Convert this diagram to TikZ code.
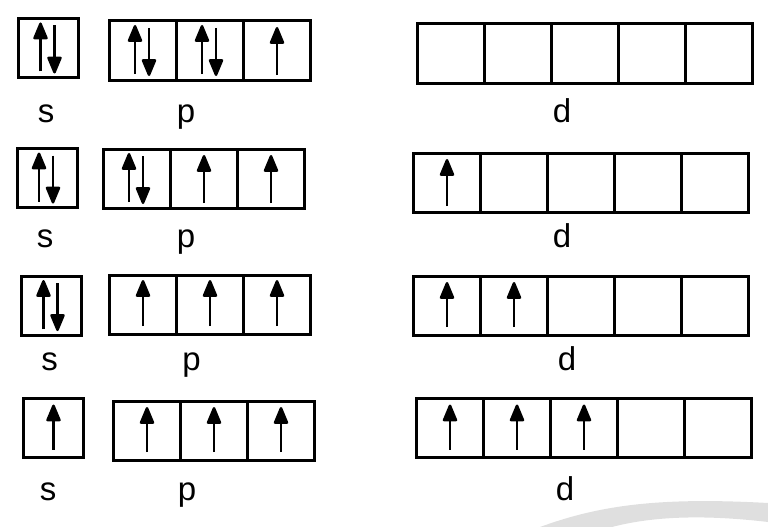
\documentclass[tikz,border=0pt]{standalone}
\usepackage{fontspec}
\setmainfont{Liberation Sans}
\usetikzlibrary{positioning,arrows.meta}

\begin{document}
\begin{tikzpicture}[x=1pt, y=-1pt, node distance=0pt,
	cell/.style={draw, line width=3pt, minimum width=67pt, minimum height=59pt, inner sep=0pt, outer sep=0pt},
	scell/.style={cell, minimum width=60pt},
	spin/.style={line width=2.5pt, -{Triangle[length=19pt,width=15pt,round]}},
	lbl/.style={anchor=base, inner sep=0pt, font=\fontsize{33}{38}\selectfont}]
	\useasboundingbox (0,0) rectangle (768,527);

	% watermark swoosh
	\fill[gray!25] (540,527) .. controls (600,505) and (660,497) .. (768,503)
		-- (768,522) .. controls (700,514) and (650,517) .. (612,527) -- cycle;

	% Define nodes
	\node (s1) [scell] at (48.5,48) {};
	\node (p11) [cell] at (143,50.5) {};
	\node (p12) [cell, right=of p11] {};
	\node (p13) [cell, right=of p12] {};
	\node (d11) [cell] at (450.5,53.5) {};
	\node (d12) [cell, right=of d11] {};
	\node (d13) [cell, right=of d12] {};
	\node (d14) [cell, right=of d13] {};
	\node (d15) [cell, right=of d14] {};

	\node (s2) [scell] at (47,178) {};
	\node (p21) [cell] at (137,178.5) {};
	\node (p22) [cell, right=of p21] {};
	\node (p23) [cell, right=of p22] {};
	\node (d21) [cell] at (447,182.5) {};
	\node (d22) [cell, right=of d21] {};
	\node (d23) [cell, right=of d22] {};
	\node (d24) [cell, right=of d23] {};
	\node (d25) [cell, right=of d24] {};

	\node (s3) [scell] at (51.5,305.5) {};
	\node (p31) [cell] at (143,304.5) {};
	\node (p32) [cell, right=of p31] {};
	\node (p33) [cell, right=of p32] {};
	\node (d31) [cell] at (447,305.5) {};
	\node (d32) [cell, right=of d31] {};
	\node (d33) [cell, right=of d32] {};
	\node (d34) [cell, right=of d33] {};
	\node (d35) [cell, right=of d34] {};

	\node (s4) [scell] at (53.5,428) {};
	\node (p41) [cell] at (147,430.5) {};
	\node (p42) [cell, right=of p41] {};
	\node (p43) [cell, right=of p42] {};
	\node (d41) [cell] at (450,428) {};
	\node (d42) [cell, right=of d41] {};
	\node (d43) [cell, right=of d42] {};
	\node (d44) [cell, right=of d43] {};
	\node (d45) [cell, right=of d44] {};

	% Labels
	\node (ls1) [lbl] at (46,122) {s};
	\node (lp1) [lbl] at (186,122) {p};
	\node (ld1) [lbl] at (562,122) {d};
	\node (ls2) [lbl] at (45,247) {s};
	\node (lp2) [lbl] at (186,247) {p};
	\node (ld2) [lbl] at (562,247) {d};
	\node (ls3) [lbl] at (49.5,370) {s};
	\node (lp3) [lbl] at (191.5,370) {p};
	\node (ld3) [lbl] at (567,370) {d};
	\node (ls4) [lbl] at (48,500) {s};
	\node (lp4) [lbl] at (187,500) {p};
	\node (ld4) [lbl] at (565,500) {d};

	% Draw electrons
	\draw[spin] ([xshift=-8pt,yshift=6pt]s1.south) -- ([xshift=-8pt,yshift=-4pt]s1.north);
	\draw[spin] ([xshift=6pt,yshift=-7pt]s1.north) -- ([xshift=6pt,yshift=4pt]s1.south);
	\draw[spin] ([xshift=-8pt,yshift=6pt]p11.south) -- ([xshift=-8pt,yshift=-4pt]p11.north);
	\draw[spin] ([xshift=6pt,yshift=-7pt]p11.north) -- ([xshift=6pt,yshift=4pt]p11.south);
	\draw[spin] ([xshift=-8pt,yshift=6pt]p12.south) -- ([xshift=-8pt,yshift=-4pt]p12.north);
	\draw[spin] ([xshift=6pt,yshift=-7pt]p12.north) -- ([xshift=6pt,yshift=4pt]p12.south);
	\draw[spin] ([yshift=5pt]p13.south) -- ([yshift=-6pt]p13.north);

	\draw[spin] ([xshift=-8pt,yshift=6pt]s2.south) -- ([xshift=-8pt,yshift=-4pt]s2.north);
	\draw[spin] ([xshift=6pt,yshift=-7pt]s2.north) -- ([xshift=6pt,yshift=4pt]s2.south);
	\draw[spin] ([xshift=-8pt,yshift=6pt]p21.south) -- ([xshift=-8pt,yshift=-4pt]p21.north);
	\draw[spin] ([xshift=6pt,yshift=-7pt]p21.north) -- ([xshift=6pt,yshift=4pt]p21.south);
	\draw[spin] ([yshift=5pt]p22.south) -- ([yshift=-6pt]p22.north);
	\draw[spin] ([yshift=5pt]p23.south) -- ([yshift=-6pt]p23.north);
	\draw[spin] ([yshift=6pt]d21.south) -- ([yshift=-6pt]d21.north);

	\draw[spin] ([xshift=-8pt,yshift=6pt]s3.south) -- ([xshift=-8pt,yshift=-4pt]s3.north);
	\draw[spin] ([xshift=6pt,yshift=-7pt]s3.north) -- ([xshift=6pt,yshift=4pt]s3.south);
	\draw[spin] ([yshift=8pt]p31.south) -- ([yshift=-5pt]p31.north);
	\draw[spin] ([yshift=8pt]p32.south) -- ([yshift=-5pt]p32.north);
	\draw[spin] ([yshift=8pt]p33.south) -- ([yshift=-5pt]p33.north);
	\draw[spin] ([yshift=8pt]d31.south) -- ([yshift=-6pt]d31.north);
	\draw[spin] ([yshift=8pt]d32.south) -- ([yshift=-6pt]d32.north);

	\draw[spin] ([yshift=8pt]s4.south) -- ([yshift=-6pt]s4.north);
	\draw[spin] ([yshift=8pt]p41.south) -- ([yshift=-6pt]p41.north);
	\draw[spin] ([yshift=8pt]p42.south) -- ([yshift=-6pt]p42.north);
	\draw[spin] ([yshift=8pt]p43.south) -- ([yshift=-6pt]p43.north);
	\draw[spin] ([yshift=8pt]d41.south) -- ([yshift=-6pt]d41.north);
	\draw[spin] ([yshift=8pt]d42.south) -- ([yshift=-6pt]d42.north);
	\draw[spin] ([yshift=8pt]d43.south) -- ([yshift=-6pt]d43.north);
\end{tikzpicture}
\end{document}
